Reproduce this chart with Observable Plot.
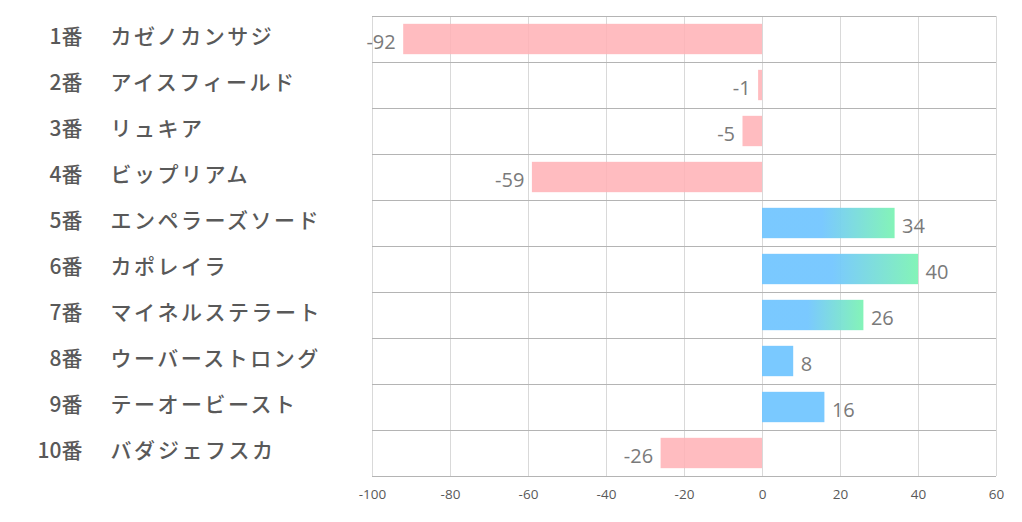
<!DOCTYPE html>
<html><head><meta charset="utf-8">
<script src="https://cdn.jsdelivr.net/npm/d3@7"></script>
<script src="https://cdn.jsdelivr.net/npm/@observablehq/plot@0.6"></script>
<style>body{margin:0;background:#fff} .names text{letter-spacing:2.5px}</style>
</head><body><div id="chart"></div>
<script>
const numbers = ["1番","2番","3番","4番","5番","6番","7番","8番","9番","10番"];
const names = ["カゼノカンサジ","アイスフィールド","リュキア","ビップリアム","エンペラーズソード","カポレイラ","マイネルステラート","ウーバーストロング","テーオービースト","バダジェフスカ"];
const values = [-92,-1,-5,-59,34,40,26,8,16,-26];
const xTicks = [-100,-80,-60,-40,-20,0,20,40,60];
const gradientRows = ["5番","6番","7番"];

const rows = numbers.map((n,i)=>({num:n,name:names[i],value:values[i],i}));
const neg = rows.filter(d=>d.value<0);
const pos = rows.filter(d=>d.value>=0);
const posPlain = pos.filter(d=>!gradientRows.includes(d.num));
const posGrad = pos.filter(d=>gradientRows.includes(d.num));
const band = {y1: d=>d.i+0.17, y2: d=>d.i+0.83};
const mid = d=>d.i+0.5;
const jp = "'Noto Sans CJK JP', sans-serif";

const svg = Plot.plot({
  width: 1022, height: 522,
  marginLeft: 372, marginRight: 26, marginTop: 16, marginBottom: 46,
  style: {fontFamily: "'Open Sans', sans-serif", background: "#fff"},
  x: {domain: [-100, 60], label: null},
  y: {domain: [0, 10], reverse: true, axis: null},
  marks: [
    Plot.ruleX(xTicks, {stroke: "#d9d9d9"}),
    Plot.ruleY(d3.range(11), {stroke: "#b4b4b4"}),
    Plot.rectX(neg, {x1: 0, x2: "value", ...band, fill: "#ffb0b5", fillOpacity: 0.85}),
    Plot.rectX(posPlain, {x1: 0, x2: "value", ...band, fill: "#73c6ff", fillOpacity: 0.95}),
    Plot.rectX(posGrad, {x1: 0, x2: "value", ...band, fill: "url(#posGrad)", fillOpacity: 0.95}),
    Plot.text(neg, {x: "value", y: mid, text: d=>`${d.value}`, textAnchor: "end", dx: -8, dy: 3, fill: "#7a7a7a", fontSize: 20}),
    Plot.text(pos, {x: "value", y: mid, text: d=>`${d.value}`, textAnchor: "start", dx: 7, dy: 3, fill: "#7a7a7a", fontSize: 20}),
    Plot.text(rows, {y: mid, text: "num", frameAnchor: "left", dx: -290, dy: -2, textAnchor: "end", fill: "#595959", fontSize: 21, fontWeight: 500, fontFamily: jp}),
    Plot.text(rows, {y: mid, text: "name", frameAnchor: "left", dx: -262, dy: -2, textAnchor: "start", fill: "#595959", fontSize: 21, fontWeight: 500, fontFamily: jp, className: "names"}),
    Plot.axisX({ticks: xTicks, tickFormat: d=>`${d}`, tickSize: 0, tickPadding: 13, fill: "#595959", fontSize: 13.5, label: null})
  ]
});
const defs = d3.select(svg).insert("defs", ":first-child");
const lg = defs.append("linearGradient").attr("id", "posGrad").attr("x1", "0").attr("x2", "1").attr("y1", "0").attr("y2", "0");
lg.append("stop").attr("offset", "0").attr("stop-color", "#73c6ff");
lg.append("stop").attr("offset", "0.45").attr("stop-color", "#73c6ff");
lg.append("stop").attr("offset", "1").attr("stop-color", "#7df3b4");
document.getElementById("chart").appendChild(svg);
</script>
</body></html>
